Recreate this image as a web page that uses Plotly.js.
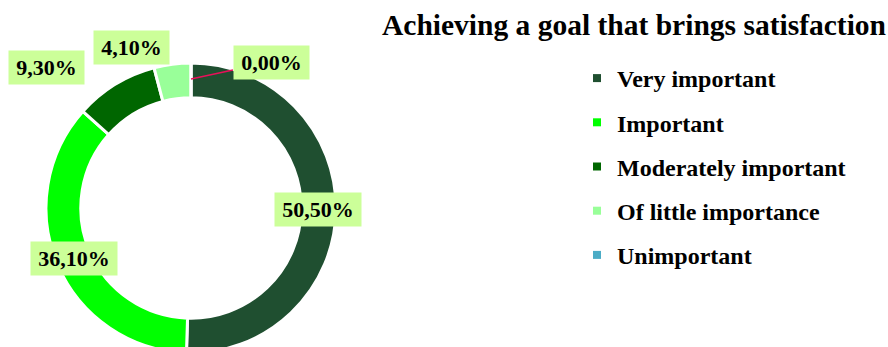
<!DOCTYPE html>
<html>
<head>
<meta charset="utf-8">
<script src="https://cdn.plot.ly/plotly-3.0.1.min.js"></script>
<style>
html,body{margin:0;padding:0;overflow:hidden;background:#fff;}
#chart{width:888px;height:360px;}
</style>
</head>
<body>
<div id="chart"></div>
<script>
// ---- data ----
var categories = ["Very important", "Important", "Moderately important", "Of little importance", "Unimportant"];
var values = [50.5, 36.1, 9.3, 4.1, 0.0];
var labelsText = ["50,50%", "36,10%", "9,30%", "4,10%", "0,00%"];
var colors = ["#1f4f30", "#00ff00", "#006600", "#99ff99", "#4bacc6"];
var titleText = "Achieving a goal that brings satisfaction";

// ---- layout config (pixels) ----
var W = 888, H = 360;
var pieLeft = 46, pieTop = 63, pieSize = 290;
var cx = pieLeft + pieSize / 2, cy = pieTop + pieSize / 2;
// label offsets from ring anchor (px) and leader visibility
var labelOffsets = [[0, 0], [0, 0], [-78, -32], [-43, -35], [80, -17]];
var labelRadius = [127, 127, 127, 127, 129];
var showLeader = [false, false, false, false, true];

var FONT = '"Times New Roman", "Liberation Serif", serif';

var traces = [{
  type: "pie",
  labels: categories,
  values: values,
  sort: false,
  direction: "clockwise",
  rotation: 0,
  hole: 0.76,
  textinfo: "none",
  hoverinfo: "label+percent",
  showlegend: false,
  marker: {colors: colors, line: {color: "#ffffff", width: 3}},
  domain: {x: [pieLeft / W, (pieLeft + pieSize) / W], y: [1 - (pieTop + pieSize) / H, 1 - pieTop / H]}
}];

categories.forEach(function (c, i) {
  traces.push({
    type: "scatter", mode: "markers", x: [null], y: [null],
    name: c, legendgroup: "g" + i,
    marker: {symbol: "square", size: 8, color: colors[i]},
    hoverinfo: "skip"
  });
});

// label annotations at slice mid-angles
var total = values.reduce(function (a, b) { return a + b; }, 0);
var annotations = [];
var cum = 0;
values.forEach(function (v, i) {
  var mid = (cum + v / 2) / total * 2 * Math.PI;
  cum += v;
  var r = labelRadius[i];
  var px = cx + r * Math.sin(mid), py = cy - r * Math.cos(mid);
  annotations.push({
    xref: "paper", yref: "paper",
    x: px / W, y: 1 - py / H,
    ax: labelOffsets[i][0], ay: labelOffsets[i][1],
    axref: "pixel", ayref: "pixel",
    text: labelsText[i],
    showarrow: true, arrowhead: 0, arrowwidth: 1.5,
    arrowcolor: showLeader[i] ? "#e8105a" : "rgba(0,0,0,0)",
    standoff: 0, startstandoff: 0,
    bgcolor: "#ccff99",
    width: 11 * labelsText[i].length + 12, height: 25, borderpad: 4,
    font: {family: FONT, size: 22, color: "#000000", weight: 700}
  });
});

var layout = {
  width: W, height: H,
  margin: {l: 0, r: 0, t: 0, b: 0},
  paper_bgcolor: "#ffffff", plot_bgcolor: "#ffffff",
  title: {
    text: titleText,
    font: {family: FONT, size: 29.5, color: "#000000", weight: 700},
    x: 634 / W, xanchor: "center", xref: "paper",
    y: 1 - 25 / H, yanchor: "middle", yref: "container"
  },
  xaxis: {visible: false, domain: [0.99, 1]},
  yaxis: {visible: false, domain: [0.99, 1]},
  showlegend: true,
  legend: {
    x: 577 / W, xanchor: "left", y: 1 - 56 / H, yanchor: "top",
    font: {family: FONT, size: 24, color: "#000000", weight: 700},
    traceorder: "grouped", tracegroupgap: 10,
    bgcolor: "rgba(0,0,0,0)"
  },
  annotations: annotations
};

Plotly.newPlot("chart", traces, layout, {staticPlot: true, displayModeBar: false});
</script>
</body>
</html>
